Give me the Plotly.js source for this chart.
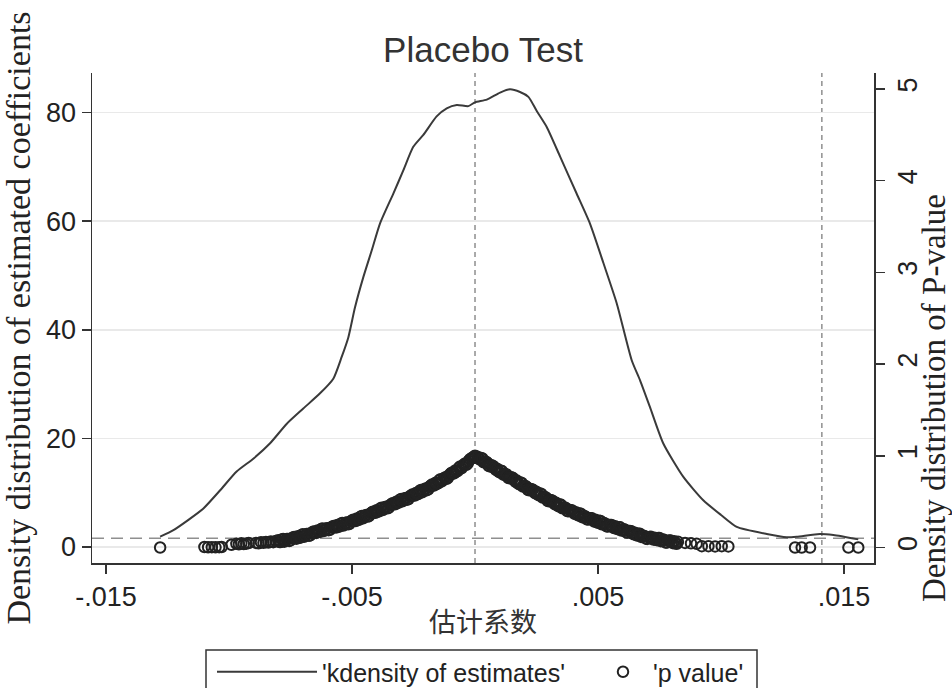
<!DOCTYPE html>
<html><head><meta charset="utf-8">
<script src="https://cdn.plot.ly/plotly-3.0.1.min.js"></script>
<style>html,body{margin:0;padding:0;background:#fff;} #chart{width:952px;height:688px;}</style>
</head><body><div id="chart"></div>
<script>
// Kernel density of placebo estimates (left axis)
const kdX = [-0.01280,-0.01226,-0.01165,-0.01104,-0.01035,-0.00969,-0.00900,-0.00833,-0.00765,-0.00698,
-0.00630,-0.00576,-0.00542,-0.00515,-0.00488,-0.00454,-0.00420,-0.00386,-0.00332,-0.00291,
-0.00251,-0.00210,-0.00156,-0.00115,-0.00074,-0.00027,0.00000,0.00048,0.00102,0.00142,
0.00183,0.00217,0.00251,0.00291,0.00346,0.00413,0.00467,0.00522,0.00576,0.00637,
0.00671,0.00711,0.00765,0.00847,0.00928,0.01000,0.01064,0.01186,0.01267,0.01308,
0.01402,0.01457,0.01558];
const kdY = [1.9,3.1,5.0,7.1,10.5,13.9,16.3,19.1,22.7,25.5,
28.3,31.0,35.0,38.6,44.1,49.7,54.6,59.6,65.1,69.4,
73.7,75.9,79.3,80.8,81.4,81.2,81.9,82.4,83.7,84.3,
83.8,82.9,80.3,77.4,71.9,65.1,59.6,52.3,44.9,34.4,
30.7,25.8,19.1,12.9,8.6,5.9,3.7,2.4,1.8,1.9,
2.4,2.2,1.4];

// p values of placebo estimates (right axis)
const leftTailX = [-0.01280,-0.01100,-0.01085,-0.01070,-0.01055,-0.01040,-0.01030,
-0.00990,-0.00970,-0.00960,-0.00950,-0.00940,-0.00930,-0.00920,
-0.00890,-0.00880,-0.00870,-0.00860,-0.00850,-0.00840,-0.00830,-0.00820,-0.00810];
const leftTailP = [0.000,0.005,0.003,0.004,0.002,0.004,0.005,
0.030,0.040,0.035,0.045,0.038,0.042,0.048,
0.050,0.045,0.058,0.052,0.060,0.055,0.065,0.058,0.070];

const leftBandX = [-0.00800,-0.00795,-0.00790,-0.00785,-0.00780,-0.00775,-0.00770,-0.00765,-0.00760,-0.00755,
-0.00750,-0.00745,-0.00740,-0.00735,-0.00730,-0.00725,-0.00720,-0.00715,-0.00710,-0.00705,
-0.00700,-0.00695,-0.00690,-0.00685,-0.00680,-0.00675,-0.00670,-0.00665,-0.00660,-0.00655,
-0.00650,-0.00645,-0.00640,-0.00635,-0.00630,-0.00625,-0.00620,-0.00615,-0.00610,-0.00605,
-0.00600,-0.00595,-0.00590,-0.00585,-0.00580,-0.00575,-0.00570,-0.00565,-0.00560,-0.00555,
-0.00550,-0.00545,-0.00540,-0.00535,-0.00530,-0.00525,-0.00520,-0.00515,-0.00510,-0.00505,
-0.00500,-0.00495,-0.00490,-0.00485,-0.00480,-0.00475,-0.00470,-0.00465,-0.00460,-0.00455,
-0.00450,-0.00445,-0.00440,-0.00435,-0.00430,-0.00425,-0.00420,-0.00415,-0.00410,-0.00405,
-0.00400,-0.00395,-0.00390,-0.00385,-0.00380,-0.00375,-0.00370,-0.00365,-0.00360,-0.00355,
-0.00350,-0.00345,-0.00340,-0.00335,-0.00330,-0.00325,-0.00320,-0.00315,-0.00310,-0.00305,
-0.00300,-0.00295,-0.00290,-0.00285,-0.00280,-0.00275,-0.00270,-0.00265,-0.00260,-0.00255,
-0.00250,-0.00245,-0.00240,-0.00235,-0.00230,-0.00225,-0.00220,-0.00215,-0.00210,-0.00205,
-0.00200,-0.00195,-0.00190,-0.00185,-0.00180,-0.00175,-0.00170,-0.00165,-0.00160,-0.00155,
-0.00150,-0.00145,-0.00140,-0.00135,-0.00130,-0.00125,-0.00120,-0.00115,-0.00110,-0.00105,
-0.00100,-0.00095,-0.00090,-0.00085,-0.00080,-0.00075,-0.00070,-0.00065,-0.00060,-0.00055,
-0.00050,-0.00045,-0.00040,-0.00035,-0.00030,-0.00025,-0.00020,-0.00015,-0.00010,-0.00005];
const leftBandP = [0.078,0.060,0.060,0.088,0.093,0.064,0.077,0.092,0.093,0.072,
0.077,0.100,0.108,0.114,0.102,0.096,0.122,0.106,0.108,0.137,
0.144,0.116,0.130,0.146,0.148,0.128,0.134,0.158,0.168,0.175,
0.164,0.159,0.186,0.170,0.172,0.201,0.208,0.180,0.193,0.208,
0.209,0.189,0.194,0.218,0.227,0.234,0.223,0.218,0.244,0.228,
0.230,0.260,0.267,0.240,0.254,0.270,0.272,0.253,0.259,0.284,
0.295,0.303,0.293,0.289,0.317,0.302,0.305,0.336,0.344,0.318,
0.334,0.352,0.355,0.337,0.344,0.370,0.381,0.390,0.381,0.378,
0.406,0.392,0.395,0.426,0.434,0.408,0.424,0.442,0.445,0.427,
0.434,0.461,0.473,0.482,0.473,0.471,0.500,0.486,0.490,0.521,
0.529,0.503,0.519,0.537,0.540,0.522,0.529,0.556,0.568,0.577,
0.568,0.566,0.595,0.581,0.585,0.617,0.627,0.602,0.619,0.638,
0.642,0.625,0.634,0.662,0.675,0.686,0.678,0.677,0.707,0.695,
0.700,0.733,0.744,0.721,0.739,0.759,0.765,0.749,0.759,0.788,
0.803,0.815,0.808,0.808,0.840,0.829,0.835,0.871,0.884,0.863,
0.884,0.907,0.915,0.902,0.914,0.946,0.963,0.972,0.975,0.985];

const peakX = [0.00000,0.00003,-0.00003];
const peakP = [1.000,0.990,0.992];

const rightBandX = [0.00010,0.00015,0.00020,0.00025,0.00030,0.00035,0.00040,0.00045,0.00050,0.00055,
0.00060,0.00065,0.00070,0.00075,0.00080,0.00085,0.00090,0.00095,0.00100,0.00105,
0.00110,0.00115,0.00120,0.00125,0.00130,0.00135,0.00140,0.00145,0.00150,0.00155,
0.00160,0.00165,0.00170,0.00175,0.00180,0.00185,0.00190,0.00195,0.00200,0.00205,
0.00210,0.00215,0.00220,0.00225,0.00230,0.00235,0.00240,0.00245,0.00250,0.00255,
0.00260,0.00265,0.00270,0.00275,0.00280,0.00285,0.00290,0.00295,0.00300,0.00305,
0.00310,0.00315,0.00320,0.00325,0.00330,0.00335,0.00340,0.00345,0.00350,0.00355,
0.00360,0.00365,0.00370,0.00375,0.00380,0.00385,0.00390,0.00395,0.00400,0.00405,
0.00410,0.00415,0.00420,0.00425,0.00430,0.00435,0.00440,0.00445,0.00450,0.00455,
0.00460,0.00465,0.00470,0.00475,0.00480,0.00485,0.00490,0.00495,0.00500,0.00505,
0.00510,0.00515,0.00520,0.00525,0.00530,0.00535,0.00540,0.00545,0.00550,0.00555,
0.00560,0.00565,0.00570,0.00575,0.00580,0.00585,0.00590,0.00595,0.00600,0.00605,
0.00610,0.00615,0.00620,0.00625,0.00630,0.00635,0.00640,0.00645,0.00650,0.00655,
0.00660,0.00665,0.00670,0.00675,0.00680,0.00685,0.00690,0.00695,0.00700,0.00705,
0.00710,0.00715,0.00720,0.00725,0.00730,0.00735,0.00740,0.00745,0.00750,0.00755,
0.00760,0.00765,0.00770,0.00775,0.00780,0.00785,0.00790,0.00795,0.00800,0.00805,
0.00810,0.00815,0.00820,0.00825];
const rightBandP = [0.990,0.970,0.960,0.976,0.970,0.930,0.931,0.935,0.924,0.891,
0.884,0.896,0.893,0.887,0.863,0.846,0.860,0.831,0.820,0.838,
0.833,0.794,0.796,0.801,0.791,0.760,0.754,0.765,0.762,0.757,
0.733,0.716,0.730,0.701,0.690,0.708,0.703,0.664,0.666,0.671,
0.661,0.630,0.624,0.637,0.635,0.631,0.608,0.592,0.607,0.580,
0.570,0.588,0.583,0.544,0.546,0.551,0.541,0.510,0.504,0.517,
0.515,0.511,0.488,0.472,0.487,0.460,0.450,0.469,0.465,0.427,
0.431,0.437,0.428,0.398,0.394,0.408,0.407,0.404,0.383,0.368,
0.384,0.358,0.350,0.370,0.368,0.331,0.336,0.343,0.336,0.307,
0.304,0.319,0.320,0.318,0.298,0.284,0.302,0.277,0.270,0.291,
0.289,0.253,0.258,0.266,0.260,0.232,0.229,0.245,0.246,0.245,
0.226,0.213,0.231,0.207,0.200,0.221,0.220,0.185,0.191,0.199,
0.193,0.166,0.164,0.179,0.180,0.178,0.158,0.144,0.162,0.137,
0.130,0.151,0.150,0.115,0.121,0.129,0.123,0.096,0.094,0.112,
0.115,0.116,0.098,0.087,0.107,0.085,0.080,0.103,0.103,0.069,
0.076,0.086,0.081,0.055,0.054,0.072,0.075,0.076,0.058,0.047,
0.067,0.045,0.040,0.063];

const rightTailX = [0.00854,0.00878,0.00901,0.00922,0.00949,0.00976,0.01003,0.01030,
0.01301,0.01328,0.01362,0.01518,0.01558];
const rightTailP = [0.050,0.045,0.040,0.015,0.015,0.012,0.015,0.012,
0.000,0.000,0.000,0.000,0.000];

const xTickVals = [-0.015,-0.005,0.005,0.015];
const xTickText = ['-.015','-.005','.005','.015'];
const yTickVals = [0,20,40,60,80];
const y2TickVals = [0,1,2,3,4,5];
const trueEffectX = 0.0141;   // vertical reference line
const pThreshold = 0.1;       // horizontal reference line

const pX = [].concat(leftTailX, leftBandX, peakX, rightBandX, rightTailX);
const pY = [].concat(leftTailP, leftBandP, peakP, rightBandP, rightTailP);

const sans = 'Liberation Sans, Arial, sans-serif';
const serif = 'Liberation Serif, Times New Roman, serif';

const traces = [
  {x: kdX, y: kdY, type: 'scatter', mode: 'lines', name: "'kdensity of estimates'",
   line: {color: '#3a3a3a', width: 2, shape: 'spline', smoothing: 0.6},
   xaxis: 'x', yaxis: 'y', hoverinfo: 'skip', legend: 'legend'},
  {x: pX, y: pY, type: 'scatter', mode: 'markers', name: "'p value'",
   marker: {symbol: 'circle-open', size: 10.5, color: '#222', line: {width: 2, color: '#222'}},
   xaxis: 'x', yaxis: 'y2', hoverinfo: 'skip', legend: 'legend2'}
];

const dashCol = '#8f8f8f';
const pxX = v => (v - 92) / 782;     // pixel -> paper x
const pxY = v => (563 - v) / 490;    // pixel -> paper y
const legendFont = {family: sans, size: 25, color: '#222'};
const layout = {
  width: 952, height: 688,
  margin: {l: 92, r: 78, t: 73, b: 125, autoexpand: false},
  paper_bgcolor: '#ffffff', plot_bgcolor: '#ffffff',
  title: {text: 'Placebo Test', font: {family: sans, size: 35, color: '#333'},
          x: 0.5, xref: 'paper', xanchor: 'center', y: 1 - 50/688, yref: 'container', yanchor: 'middle'},
  xaxis: {range: [-0.01557, 0.01622], tickvals: xTickVals, ticktext: xTickText,
          ticks: 'outside', ticklen: 9, tickwidth: 1.5, tickcolor: '#333',
          showline: true, linecolor: '#333', linewidth: 1.5, showgrid: false, zeroline: false,
          automargin: false,
          tickfont: {family: sans, size: 27, color: '#222'},
          title: {text: '估计系数', font: {family: 'Noto Sans CJK SC', size: 27, color: '#333'}, standoff: 2}},
  yaxis: {range: [-2.95, 87.3], tickvals: yTickVals, ticks: 'outside', ticklen: 9, tickwidth: 1.5, tickcolor: '#333',
          showline: true, linecolor: '#333', linewidth: 1.5, showgrid: true, gridcolor: '#e9e9e9', gridwidth: 1.5,
          zeroline: false, automargin: false,
          tickfont: {family: sans, size: 27, color: '#222'},
          title: {text: 'Density distribution of estimated coefficients', font: {family: serif, size: 34, color: '#222'}, standoff: 8}},
  yaxis2: {overlaying: 'y', side: 'right', range: [-0.169, 5.174], tickvals: y2TickVals, tickangle: -90,
          ticks: 'outside', ticklen: 9, tickwidth: 1.5, tickcolor: '#333',
          showline: true, linecolor: '#333', linewidth: 1.5, showgrid: false, zeroline: false, automargin: false,
          tickfont: {family: sans, size: 27, color: '#222'}},
  annotations: [
    {text: 'Density distribution of P-value', xref: 'paper', yref: 'paper',
     x: pxX(934), y: pxY(398), xanchor: 'center', yanchor: 'middle', textangle: -90, showarrow: false,
     font: {family: serif, size: 33, color: '#222'}}
  ],
  shapes: [
    {type: 'line', xref: 'x', yref: 'paper', x0: 0, x1: 0, y0: 0, y1: 1, layer: 'between',
     line: {color: dashCol, width: 1.5, dash: '5px,4px'}},
    {type: 'line', xref: 'x', yref: 'paper', x0: trueEffectX, x1: trueEffectX, y0: 0, y1: 1, layer: 'between',
     line: {color: dashCol, width: 1.5, dash: '5px,4px'}},
    {type: 'line', xref: 'paper', yref: 'y2', x0: 0, x1: 1, y0: pThreshold, y1: pThreshold, layer: 'between',
     line: {color: dashCol, width: 1.5, dash: '12px,7px'}},
    // legend frame
    {type: 'rect', xref: 'paper', yref: 'paper', x0: pxX(206), x1: pxX(757), y0: pxY(650), y1: pxY(700),
     layer: 'above', line: {color: '#333', width: 1.5}, fillcolor: 'rgba(0,0,0,0)'}
  ],
  showlegend: true,
  legend: {orientation: 'h', x: pxX(212), xanchor: 'left', y: pxY(649), yanchor: 'top',
           borderwidth: 0, bgcolor: 'rgba(0,0,0,0)', font: legendFont, itemwidth: 100},
  legend2: {orientation: 'h', x: pxX(593), xanchor: 'left', y: pxY(649), yanchor: 'top',
           borderwidth: 0, bgcolor: 'rgba(0,0,0,0)', font: legendFont, itemwidth: 50}
};

Plotly.newPlot('chart', traces, layout, {displayModeBar: false, staticPlot: true});
</script>
</body></html>
